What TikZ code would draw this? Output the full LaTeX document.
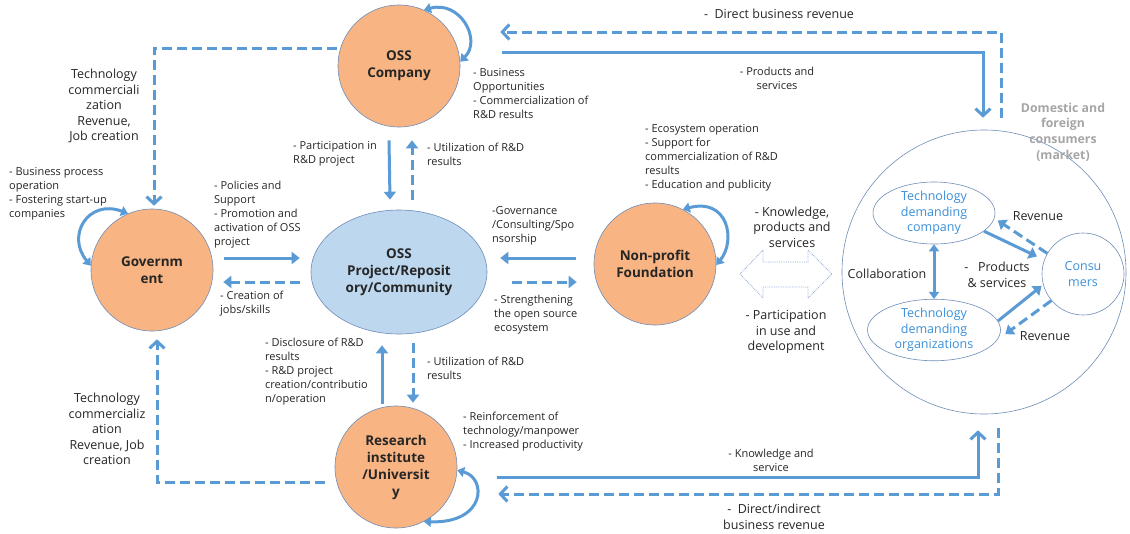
\documentclass[tikz,border=0pt]{standalone}
\usepackage{fontspec}
\setmainfont{Open Sans}
\usetikzlibrary{arrows.meta,shapes.geometric,calc}
\definecolor{ablue}{HTML}{5B9BD5}
\definecolor{corange}{HTML}{F8B482}
\definecolor{cedge}{HTML}{6F8DB9}
\definecolor{cproj}{HTML}{BDD7EE}
\definecolor{tblue}{HTML}{3B8FD8}
\definecolor{tgray}{HTML}{A6A6A6}
\definecolor{tdark}{HTML}{262626}
\definecolor{cdot}{HTML}{8EA9DB}
\begin{document}
\begin{tikzpicture}[x=1pt,y=-1pt,
  every node/.style={text=tdark},
  small/.style={font=\fontsize{11}{14}\selectfont, inner sep=0pt},
  big/.style={font=\fontsize{12.5}{15.5}\selectfont, inner sep=0pt},
  lblL/.style={small, align=left, anchor=west},
  lblC/.style={small, align=center},
  bigC/.style={big, align=center},
  actor/.style={circle, draw=cedge, line width=0.6pt, fill=corange, minimum size=122pt,
    align=center, font=\bfseries\fontsize{13.5}{17}\selectfont, inner sep=0pt},
  inner/.style={ellipse, draw=cedge, line width=0.6pt, inner sep=0pt, align=center,
    text=tblue, font=\fontsize{12.5}{15.5}\selectfont},
  conn/.style={draw=ablue, line width=3pt},
  dashc/.style={conn, dash pattern=on 10pt off 5pt},
  tri/.style={-{Triangle[length=8pt,width=12pt]}},
  barb/.style={-{Straight Barb[length=7pt,width=15pt]}},
  dtri/.style={{Triangle[length=7pt,width=10pt]}-{Triangle[length=7pt,width=10pt]}},
]
\fill[white] (0,0) rectangle (1130,533);
\useasboundingbox (0,0) rectangle (1130,533);

% main actors
\node[actor] (comp) at (399,66) {OSS\\Company};
\node[actor] (gov) at (152,270) {Governm\\ent};
\node[ellipse, draw=cedge, line width=0.6pt, fill=cproj, minimum width=176pt, minimum height=124pt,
  align=center, font=\bfseries\fontsize{13.5}{17}\selectfont, inner sep=0pt] (proj) at (399,272)
  {OSS\\Project/Reposit\\ory/Community};
\node[actor] (fnd) at (655,264) {Non-profit\\Foundation};
\node[actor] (res) at (396,467) {Research\\institute\\/Universit\\y};

% market
\node[circle, draw=cedge, line width=0.6pt, minimum size=284pt, inner sep=0pt] (mkt) at (984,272) {};
\node[inner, minimum width=122pt, minimum height=62pt] (tdc) at (934,213) {Technology\\demanding\\company};
\node[inner, minimum width=133pt, minimum height=60pt] (tdo) at (934,330) {Technology\\demanding\\organizations};
\node[inner, circle, minimum size=82pt] (cons) at (1083,274) {Consu\\mers};

% self loops
\draw[conn,dtri] (comp.66) .. controls +(36,-10) and +(22,-22) .. (comp.4);
\draw[conn,dtri] (gov.113) .. controls +(-40,-15) and +(-25,-30) .. (gov.176);
\draw[conn,dtri] (fnd.63) .. controls +(45,-12) and +(20,-25) .. (fnd.-1);
\draw[conn,dtri] (res.-3) .. controls +(30,8) and +(62,2) .. (res.-63);

% short connectors
\draw[conn,tri] ([shift={(11,-12)}]gov.east) -- ([shift={(-11,-14)}]proj.west);
\draw[dashc,tri] ([shift={(-11,10)}]proj.west) -- ([shift={(10,12)}]gov.east);
\draw[conn,tri] ([shift={(-10,13)}]comp.south) -- ([shift={(-9,-10)}]proj.north);
\draw[dashc,tri] ([shift={(13,-10)}]proj.north) -- ([shift={(13,13)}]comp.south);
\draw[conn,tri] ([shift={(-14,-2)}]res.north) -- ([shift={(-17,11)}]proj.south);
\draw[dashc,tri] ([shift={(14,9)}]proj.south) -- ([shift={(17,-3)}]res.north);
\draw[conn,tri] ([shift={(-18,-6)}]fnd.west) -- ([shift={(13,-14)}]proj.east);
\draw[dashc,tri] ([shift={(25,10)}]proj.east) -- ([shift={(-17,18)}]fnd.west);

% long elbow connectors
\draw[conn,barb] ([shift={(42,-14)}]comp.east) -| ([shift={(-1,-12)}]mkt.north);
\draw[dashc,barb] ([shift={(17,-12)}]mkt.north) |- ([shift={(40,-34)}]comp.east);
\draw[dashc,barb] ([shift={(-1,-18)}]comp.west) -| ([shift={(2,-3)}]gov.north);
\draw[dashc,barb] ([shift={(-10,15)}]res.west) -| ([shift={(5,8)}]gov.south);
\draw[conn,barb] ([shift={(40,10)}]res.east) -| ([shift={(-6,16)}]mkt.south);
\draw[dashc,barb] ([shift={(14,14)}]mkt.south) |- ([shift={(41,27)}]res.east);

% hollow double arrow
\draw[cdot, densely dotted, line width=0.8pt] (740,274) -- (763,250) -- (763,262) -- (808,262)
  -- (808,250) -- (832,274) -- (808,298) -- (808,287) -- (763,287) -- (763,298) -- cycle;

% market inner connectors
\draw[conn,dtri] (tdc.south) -- (tdc.south |- tdo.north);
\draw[conn,tri,shorten >=8pt] (tdc.-20) -- (cons.160);
\draw[dashc,tri,shorten >=4pt] (cons.150) -- (tdc.-5);
\draw[conn,tri,shorten >=2pt] (tdo.8) -- (cons.195);
\draw[dashc,tri,shorten >=10pt] (cons.220) -- (tdo.-9);

% labels
\node[bigC] (rev1) at (779,14) {-\ \ Direct business revenue};
\node[lblC] (ps) at (777,78) {- Products and\\services};
\node[bigC] (tc1) at (104,106) {Technology\\commerciali\\zation\\Revenue,\\Job creation};
\node[bigC] (tc2) at (107,429) {Technology\\commercializ\\ation\\Revenue, Job\\creation};
\node[lblL] (bp) at (9,194) {- Business process\\operation\\- Fostering start-up\\companies};
\node[lblL] (pol) at (214,214.5) {- Policies and\\Support\\- Promotion and\\activation of OSS\\project};
\node[lblL] (cre) at (220,304) {- Creation of\\jobs/skills};
\node[lblL] (par) at (293,153.5) {- Participation in\\R\&D project};
\node[lblL] (ut1) at (427,154) {- Utilization of R\&D\\results};
\node[lblL] (bo) at (473,94) {- Business\\Opportunities\\- Commercialization of\\R\&D results};
\node[lblL] (eco) at (645,158) {- Ecosystem operation\\- Support for\\commercialization of R\&D\\results\\- Education and publicity};
\node[lblL] (gcs) at (492,226) {-Governance\\/Consulting/Spo\\nsorship};
\node[lblL] (str) at (494,314.5) {- Strengthening\\the open source\\ecosystem};
\node[lblL] (dis) at (265,372) {- Disclosure of R\&D\\results\\- R\&D project\\creation/contributio\\n/operation};
\node[lblL] (ut2) at (427,368) {- Utilization of R\&D\\results};
\node[lblL] (rei) at (463,431.5) {- Reinforcement of\\technology/manpower\\- Increased productivity};
\node[bigC] (kps) at (792,227) {- Knowledge,\\products and\\services};
\node[bigC] (pud) at (786,332) {- Participation\\in use and\\development};
\node[lblC] (ks) at (771,460.5) {- Knowledge and\\service};
\node[bigC] (dib) at (774,517) {-\ \ Direct/indirect\\business revenue};
\node[big] (col) at (887,274) {Collaboration};
\node[big] (rv1) at (1038,216) {Revenue};
\node[big] (rv2) at (1045,336) {Revenue};
\node[bigC] (pns) at (997,275) {-\ \ \ Products\\\& services};
\node[bigC, text=tgray, font=\bfseries\fontsize{12.3}{15.7}\selectfont] (dom) at (1063,132)
  {Domestic and\\foreign\\consumers\\(market)};
\end{tikzpicture}
\end{document}
